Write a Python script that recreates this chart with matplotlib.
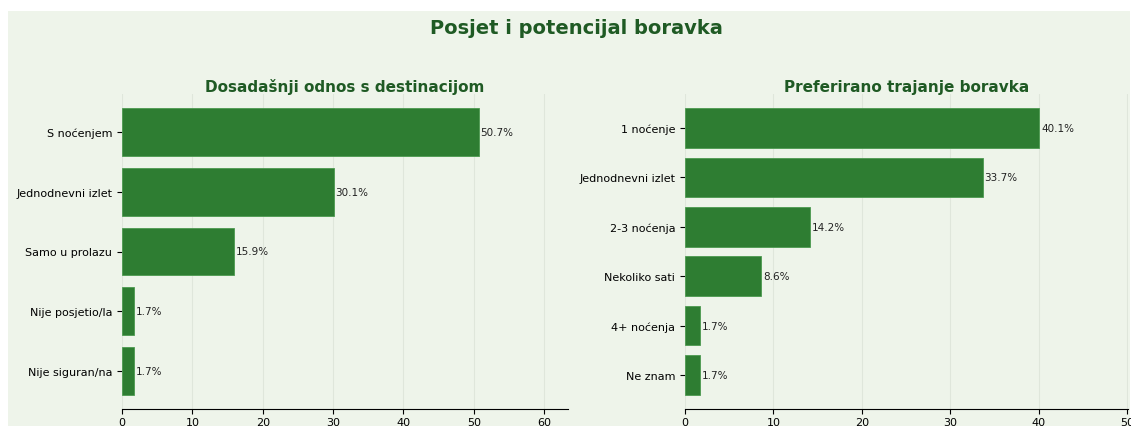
import numpy as np
import matplotlib
matplotlib.use("Agg")
import matplotlib.pyplot as plt
from matplotlib.patches import Rectangle

# data
odnos_labels = ['S noćenjem', 'Jednodnevni izlet', 'Samo u prolazu', 'Nije posjetio/la', 'Nije siguran/na']
odnos_vals = [50.7, 30.1, 15.9, 1.7, 1.7]

trajanje_labels = ['1 noćenje', 'Jednodnevni izlet', '2-3 noćenja', 'Nekoliko sati', '4+ noćenja', 'Ne znam']
trajanje_vals = [40.1, 33.7, 14.2, 8.6, 1.7, 1.7]

bg = '#eef4ea'
bar_c = '#2e7d32'
title_c = '#1f5a24'

fig = plt.figure(figsize=(11.31, 4.27), dpi=100, facecolor='white')
fig.add_artist(Rectangle((8/1131, 0), 1 - 9/1131, 1 - 12/427, transform=fig.transFigure,
                         facecolor=bg, edgecolor='none', zorder=-10))

fig.text(0.510, 0.933, 'Posjet i potencijal boravka', ha='center', va='center',
         fontsize=14, fontweight='bold', color=title_c)

ax1 = fig.add_axes([122/1131, 17/427, 446/1131, 315/427])
ax2 = fig.add_axes([685/1131, 17/427, 443/1131, 315/427])

def draw(ax, labels, vals, title):
    ax.set_facecolor(bg)
    ax.set_zorder(5)
    y = np.arange(len(vals))
    ax.barh(y, vals, height=0.8, color=bar_c, edgecolor='#4c9a50', linewidth=0.6, zorder=2)
    ax.set_yticks(y)
    ax.set_yticklabels(labels, fontsize=8)
    ax.invert_yaxis()
    ax.set_xlim(0, max(vals) * 1.25)
    ax.tick_params(axis='x', labelsize=8, pad=2)
    for yi, v in zip(y, vals):
        ax.text(v + max(vals) * 0.005, yi, f'{v}%', va='center', fontsize=7.5, color='#222222')
    for s in ['top', 'right', 'left']:
        ax.spines[s].set_visible(False)
    ax.xaxis.grid(True, color='#dfe6db', linewidth=0.8, zorder=0)
    ax.set_axisbelow(True)
    ax.set_title(title, fontsize=11, fontweight='bold', color=title_c, pad=2)

draw(ax1, odnos_labels, odnos_vals, 'Dosadašnji odnos s destinacijom')
draw(ax2, trajanje_labels, trajanje_vals, 'Preferirano trajanje boravka')

fig.savefig('out.png', dpi=100, facecolor=fig.get_facecolor())
